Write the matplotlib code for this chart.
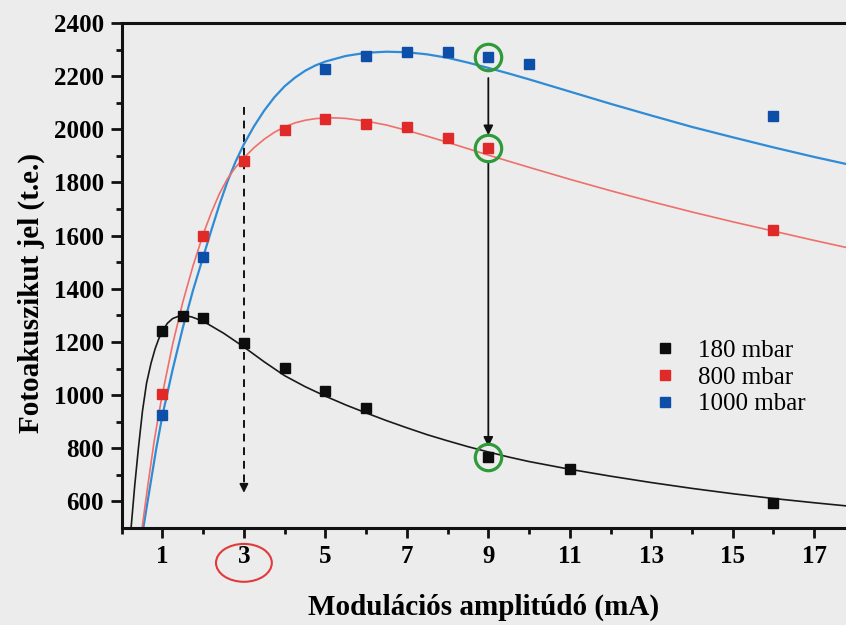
import matplotlib
matplotlib.use("Agg")
import matplotlib.pyplot as plt
from matplotlib.patches import Ellipse
from matplotlib.ticker import FixedLocator

# ---- measured data points ----
x_180 = [1, 1.5, 2, 3, 4, 5, 6, 9, 11, 16]
y_180 = [1243, 1299, 1290, 1196, 1103, 1017, 951, 767, 722, 594]

x_800 = [1, 2, 3, 4, 5, 6, 7, 8, 9, 16]
y_800 = [1005, 1599, 1880, 1999, 2040, 2021, 2010, 1969, 1931, 1620]

x_1000 = [1, 2, 5, 6, 7, 8, 9, 10, 16]
y_1000 = [924, 1520, 2227, 2276, 2291, 2291, 2272, 2246, 2051]

# ---- fitted curves ----
fx_180 = [0.23, 0.32, 0.41, 0.51, 0.61, 0.72, 0.82, 0.91, 1.0, 1.12, 1.25, 1.4, 1.55, 1.72,
          2.0, 2.5, 3.0, 3.5, 4.0, 4.5, 5.0, 5.5, 6.0, 6.5, 7.0, 7.5, 8.0, 8.5, 9.0, 9.5,
          10.0, 11.0, 12.0, 13.0, 14.0, 15.0, 16.0, 17.0, 17.8]
fy_180 = [500, 660, 800, 940, 1045, 1120, 1174, 1212, 1240, 1270, 1288, 1297, 1299, 1294,
          1278, 1233, 1181, 1125, 1073, 1032, 996, 963, 933, 904, 877, 851, 828, 806, 786, 767,
          750, 721, 695, 671, 649, 629, 611, 595, 583]

fx_800 = [0.5, 0.65, 0.8, 0.9, 1.0, 1.25, 1.5, 1.75, 2.0, 2.2, 2.4, 2.6, 2.8, 3.0, 3.25, 3.5,
          3.75, 4.0, 4.25, 4.5, 4.75, 5.0, 5.25, 5.5, 6.0, 6.5, 7.0, 7.5, 8.0, 8.5, 9.0, 9.5,
          10.0, 11.0, 12.0, 13.0, 14.0, 15.0, 16.0, 17.0, 17.8]
fy_800 = [500, 670, 830, 920, 1005, 1191, 1350, 1486, 1605, 1687, 1758, 1815, 1858, 1893, 1931, 1963,
          1989, 2009, 2024, 2034, 2040, 2043, 2043, 2041, 2031, 2016, 1996, 1974, 1951, 1927, 1903, 1880,
          1857, 1812, 1769, 1728, 1689, 1652, 1617, 1582, 1555]

fx_1000 = [0.53, 0.7, 0.85, 1.0, 1.25, 1.5, 1.75, 2.0, 2.2, 2.4, 2.6, 2.8, 3.0, 3.25, 3.5, 3.75,
           4.0, 4.25, 4.5, 4.75, 5.0, 5.5, 6.0, 6.5, 7.0, 7.5, 8.0, 8.5, 9.0, 9.5, 10.0, 11.0,
           12.0, 13.0, 14.0, 15.0, 16.0, 17.0, 17.8]
fy_1000 = [500, 660, 800, 924, 1096, 1253, 1394, 1520, 1620, 1717, 1805, 1880, 1944, 2012, 2071, 2121,
           2162, 2194, 2220, 2240, 2255, 2276, 2288, 2292, 2290, 2282, 2269, 2251, 2231, 2210, 2188, 2142,
           2096, 2052, 2009, 1970, 1932, 1896, 1869]

labels = ["180 mbar", "800 mbar", "1000 mbar"]
x_ticks = [1, 3, 5, 7, 9, 11, 13, 15, 17]
y_ticks = [600, 800, 1000, 1200, 1400, 1600, 1800, 2000, 2200, 2400]

bg = "#ececec"
fig = plt.figure(figsize=(8.46, 6.25), dpi=100, facecolor=bg)
ax = fig.add_axes([121.7 / 846, 1 - 528 / 625, 1 - 121.7 / 846, (528 - 23) / 625])
ax.set_facecolor(bg)

serif = "Liberation Serif"

ax.plot(fx_1000, fy_1000, color="#2f8bd6", lw=1.6, zorder=2)
ax.plot(fx_800, fy_800, color="#ef6f6a", lw=1.2, zorder=2)
ax.plot(fx_180, fy_180, color="#1a1a1a", lw=1.2, zorder=2)

ms = 7.8
h1, = ax.plot(x_180, y_180, "s", color="#0d0d0d", ms=ms, zorder=3, label=labels[0])
h2, = ax.plot(x_800, y_800, "s", color="#e02a2a", ms=ms, zorder=3, label=labels[1])
h3, = ax.plot(x_1000, y_1000, "s", color="#0c4ea8", ms=ms, zorder=3, label=labels[2])

# green highlight circles at x=9
ax.plot([9, 9, 9], [y_1000[6], y_800[8], y_180[7]], "o", mfc="none", mec="#2e9a3a",
        ms=19, mew=2.3, zorder=4)

# dashed arrow at x=3
ax.plot([3, 3], [2085, 650], ls=(0, (4, 3)), color="#111111", lw=1.4, zorder=1)
ax.annotate("", xy=(3, 622), xytext=(3, 665),
            arrowprops=dict(arrowstyle="-|>", color="#111111", lw=1.2, mutation_scale=13))

# solid arrows at x=9
ax.annotate("", xy=(9, 1978), xytext=(9, 2193),
            arrowprops=dict(arrowstyle="-|>", color="#111111", lw=1.3, mutation_scale=14,
                            shrinkA=0, shrinkB=0))
ax.annotate("", xy=(9, 806), xytext=(9, 1874),
            arrowprops=dict(arrowstyle="-|>", color="#111111", lw=1.3, mutation_scale=14,
                            shrinkA=0, shrinkB=0))

ax.set_xlim(0, 17.78)
ax.set_ylim(500, 2400)

ax.xaxis.set_major_locator(FixedLocator(x_ticks))
ax.xaxis.set_minor_locator(FixedLocator([0, 2, 4, 6, 8, 10, 12, 14, 16]))
ax.yaxis.set_major_locator(FixedLocator(y_ticks))
ax.yaxis.set_minor_locator(FixedLocator([700, 900, 1100, 1300, 1500, 1700, 1900, 2100, 2300]))

ax.tick_params(which="major", direction="out", length=7, width=2, color="#111111", pad=5)
ax.tick_params(which="minor", direction="out", length=4, width=2, color="#111111")
ax.tick_params(axis="y", which="major", length=8)
for lab in ax.get_xticklabels() + ax.get_yticklabels():
    lab.set_fontfamily(serif)
    lab.set_fontweight("bold")
    lab.set_fontsize(18)

for side in ["left", "bottom", "top"]:
    ax.spines[side].set_linewidth(2.2)
    ax.spines[side].set_color("#111111")
ax.spines["right"].set_visible(False)

# red ellipse around tick label 3
ell = Ellipse((3, -0.069), width=1.37, height=0.075, transform=ax.get_xaxis_transform(),
              fill=False, ec="#e03a3a", lw=1.5, clip_on=False)
ax.add_patch(ell)

fig.text(0.572, 0.029, "Modulációs amplitúdó (mA)", family=serif, weight="bold",
         fontsize=21, ha="center", va="center")
fig.text(0.0366, 0.531, "Fotoakuszikut jel (t.e.)", family=serif, weight="bold",
         fontsize=21, ha="center", va="center", rotation=90)

leg = ax.legend(handles=[h1, h2, h3], loc="upper left", bbox_to_anchor=(0.699, 0.418),
                frameon=False, prop=dict(family=serif, size=18), handlelength=1.2,
                handletextpad=0.7, labelspacing=0.17, markerscale=0.9)

fig.savefig("out.png", dpi=100, facecolor=bg)
